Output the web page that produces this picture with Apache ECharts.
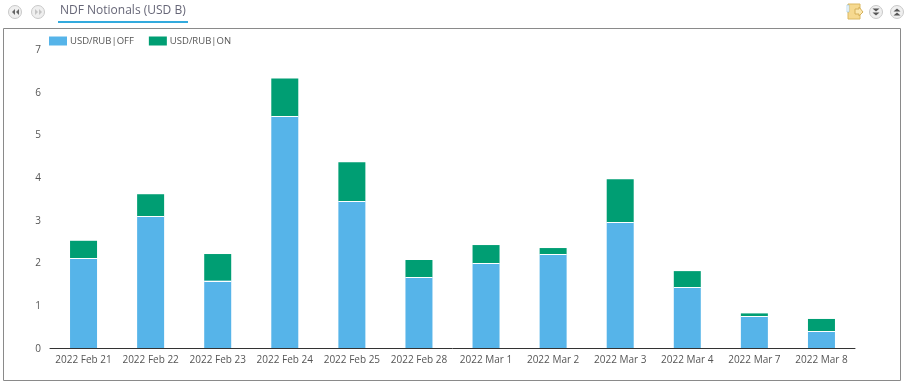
<!DOCTYPE html>
<html><head><meta charset="utf-8">
<style>html,body{margin:0;padding:0;background:#fff}#c{width:907px;height:385px}</style>
<script src="https://cdn.jsdelivr.net/npm/echarts@6/dist/echarts.min.js"></script>
</head><body><div id="c"></div>
<script>
const categories=["2022 Feb 21","2022 Feb 22","2022 Feb 23","2022 Feb 24","2022 Feb 25","2022 Feb 28","2022 Mar 1","2022 Mar 2","2022 Mar 3","2022 Mar 4","2022 Mar 7","2022 Mar 8"];
const offValues=[2.1,3.08,1.58,5.42,3.44,1.66,1.98,2.19,2.95,1.42,0.74,0.39];
const onValues=[0.41,0.52,0.62,0.89,0.91,0.4,0.43,0.15,1.0,0.38,0.07,0.29];
const font='"Open Sans"';
function tri(pts,col){return {type:'polygon',shape:{points:pts},style:{fill:col}};}
function btn(cx,cy,col,dir){
 const ch=[{type:'circle',shape:{cx,cy,r:6.5},style:{fill:'#efefef',stroke:'#c8c8c8',lineWidth:1}}];
 if(dir==='l'||dir==='r'){const s=dir==='l'?-1:1;
  [-3,1].forEach(o=>ch.push(tri([[cx+o+(s<0?3:0),cy-3],[cx+o+(s<0?3:0),cy+3],[cx+o+(s<0?0:3),cy]],col)));
 } else {const s=dir==='u'?-1:1;
  [-3.5,0.5].forEach(o=>ch.push(tri([[cx-3.5,cy+o+(s<0?3:0)],[cx+3.5,cy+o+(s<0?3:0)],[cx,cy+o+(s<0?0:3)]],col)));
 }
 return {type:'group',children:ch};
}
const chart=echarts.init(document.getElementById('c'),null,{renderer:'canvas'});
chart.setOption({
 animation:false,
 textStyle:{fontFamily:font},
 grid:{left:50,right:52,top:49,bottom:37,containLabel:false},
 legend:{left:44,top:31,icon:'rect',itemWidth:18,itemHeight:9,itemGap:15,textStyle:{fontSize:9.5,color:'#555',fontFamily:font,padding:[0,0,0,-2]},data:['USD/RUB|OFF','USD/RUB|ON']},
 xAxis:{type:'category',data:categories,axisTick:{show:false},axisLine:{lineStyle:{color:'#333',width:1}},axisLabel:{fontSize:10,color:'#555',margin:7,interval:0}},
 yAxis:{type:'value',min:0,max:7,interval:1,axisLine:{show:false},axisTick:{show:false},splitLine:{show:false},axisLabel:{fontSize:10,color:'#555',margin:9,verticalAlign:'top',lineHeight:2}},
 series:[
  {name:'USD/RUB|OFF',type:'bar',stack:'a',barWidth:27,data:offValues,itemStyle:{color:'#56b4e9'}},
  {name:'USD/RUB|ON',type:'bar',stack:'a',barWidth:27,data:onValues,itemStyle:{color:'#009e73'}},
  {name:'sep',type:'custom',z:5,silent:true,data:offValues.map((v,i)=>[i,v]),
   renderItem:(p,api)=>{const c=api.coord([api.value(0),api.value(1)]);const y=Math.round(c[1])+0.5;
    return {type:'line',shape:{x1:c[0]-13.5,y1:y,x2:c[0]+13.5,y2:y},style:{stroke:'#fff',lineWidth:1}};}}
 ],
 graphic:[
  {type:'rect',shape:{x:3.5,y:28.5,width:897,height:352},style:{fill:'none',stroke:'#8a8a8a',lineWidth:1}},
  {type:'text',style:{x:60,y:11,text:'NDF Notionals (USD B)',fill:'#667',font:'12px "Open Sans"',verticalAlign:'middle'}},
  {type:'rect',shape:{x:58,y:21,width:130,height:2},style:{fill:'#33aadd'}},
  btn(15,12,'#666','l'),btn(38,12,'#c4c4c4','r'),
  {type:'rect',shape:{x:848,y:4,width:12,height:15},style:{fill:'#f6d98f',stroke:'#dcb963',lineWidth:1}},
  {type:'polygon',shape:{points:[[855,9],[859,9],[859,7],[863,12],[859,16],[859,14],[855,14]]},style:{fill:'#fbe7ae',stroke:'#d6b05a',lineWidth:1}},
  {type:'rect',shape:{x:847,y:5,width:2,height:7},style:{fill:'#ffffff',stroke:'#7ab7dd',lineWidth:0.5}},
  btn(876,12,'#555','d'),btn(897,12,'#555','u')
 ]
});
</script></body></html>
